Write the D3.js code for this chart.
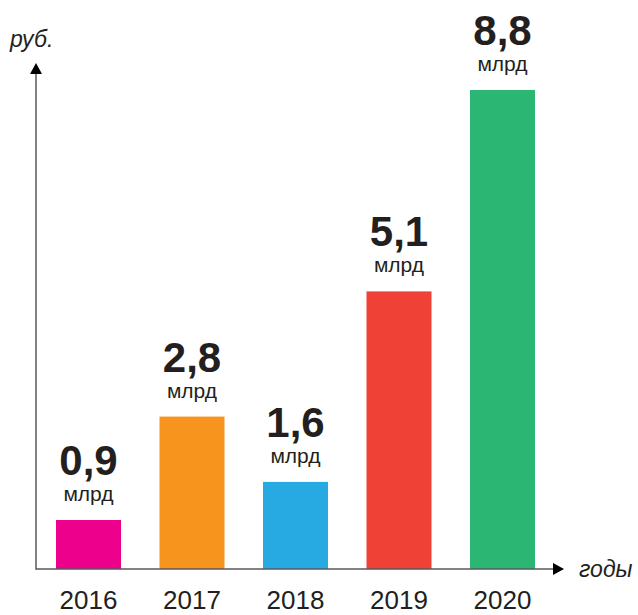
<!DOCTYPE html>
<html>
<head>
<meta charset="utf-8">
<script src="https://cdn.jsdelivr.net/npm/d3@7"></script>
<style>
  body { margin: 0; background: #fff; }
  text { font-family: "Liberation Sans", Arial, sans-serif; fill: #231f20; }
</style>
</head>
<body>
<div id="chart"></div>
<script>
// data
var years = ["2016", "2017", "2018", "2019", "2020"];
var values = [0.9, 2.8, 1.6, 5.1, 8.8];
var valueLabels = ["0,9", "2,8", "1,6", "5,1", "8,8"];
var barColors = ["#ec008c", "#f7941d", "#27aae1", "#ef4136", "#2bb673"];

var w = 638;
var h = 615;
var x0 = 36;      // y axis position
var base = 569;   // x axis position

var svg = d3.select("#chart")
  .append("svg")
  .attr("width", w)
  .attr("height", h);

// scales
var xScale = d3.scaleBand()
  .domain(years)
  .range([36.75, 554.25])
  .paddingInner(0.372)
  .paddingOuter(0.186);

var yScale = d3.scaleLinear()
  .domain([0, 8.8])
  .range([base, 90]);

// bars
svg.selectAll("rect.bar")
  .data(years)
  .enter()
  .append("rect")
  .attr("class", "bar")
  .attr("x", function(d) { return xScale(d); })
  .attr("y", function(d, i) { return yScale(values[i]); })
  .attr("width", xScale.bandwidth())
  .attr("height", function(d, i) { return base - yScale(values[i]); })
  .attr("fill", function(d, i) { return barColors[i]; });

// value labels
svg.selectAll("text.val")
  .data(years)
  .enter()
  .append("text")
  .attr("class", "val")
  .attr("x", function(d) { return xScale(d) + xScale.bandwidth() / 2; })
  .attr("y", function(d, i) { return yScale(values[i]) - 45; })
  .attr("text-anchor", "middle")
  .attr("font-size", "42px")
  .attr("font-weight", "bold")
  .text(function(d, i) { return valueLabels[i]; });

svg.selectAll("text.unit")
  .data(years)
  .enter()
  .append("text")
  .attr("class", "unit")
  .attr("x", function(d) { return xScale(d) + xScale.bandwidth() / 2; })
  .attr("y", function(d, i) { return yScale(values[i]) - 19; })
  .attr("text-anchor", "middle")
  .attr("font-size", "21px")
  .text("млрд");

// x axis (year labels)
var xAxis = d3.axisBottom(xScale).tickSize(0).tickPadding(0);
var gx = svg.append("g")
  .attr("transform", "translate(0," + base + ")")
  .call(xAxis);
gx.select(".domain").remove();
gx.selectAll("text")
  .attr("dy", null)
  .attr("y", 40)
  .attr("font-size", "26px")
  .style("font-family", "'Liberation Sans', Arial, sans-serif")
  .attr("fill", "#231f20");

// axis lines with arrows
svg.append("line")
  .attr("x1", x0).attr("y1", base)
  .attr("x2", 555).attr("y2", base)
  .attr("stroke", "#58595b")
  .attr("stroke-width", 1.5);
svg.append("path")
  .attr("d", "M553," + (base - 6) + "L564," + base + "L553," + (base + 6) + "Z")
  .attr("fill", "#000");

svg.append("line")
  .attr("x1", x0).attr("y1", base + 0.75)
  .attr("x2", x0).attr("y2", 72)
  .attr("stroke", "#58595b")
  .attr("stroke-width", 1.5);
svg.append("path")
  .attr("d", "M" + (x0 - 6) + ",74L" + x0 + ",63L" + (x0 + 6) + ",74Z")
  .attr("fill", "#000");

// axis titles
svg.append("text")
  .attr("x", 10)
  .attr("y", 47)
  .attr("font-size", "23px")
  .attr("font-style", "italic")
  .text("руб.");

svg.append("text")
  .attr("x", 579)
  .attr("y", 577)
  .attr("font-size", "23px")
  .attr("font-style", "italic")
  .text("годы");
</script>
</body>
</html>
